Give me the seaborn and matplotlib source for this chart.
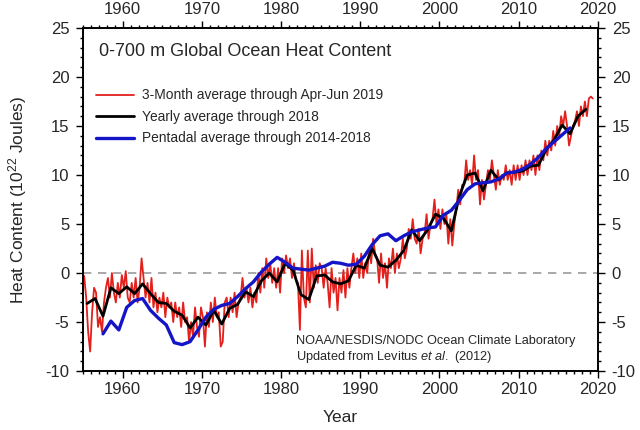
import numpy as np
import pandas as pd
import matplotlib
matplotlib.use("Agg")
import matplotlib.pyplot as plt
from matplotlib.ticker import MultipleLocator
import seaborn as sns

# ---------------- data ----------------
# 3-month averages, Jan-Mar 1955 ... Apr-Jun 2019 (10^22 J)
red_vals = [
    -0.3, -2.5, -6.0, -8.0,   # 1955
    -4.0, -1.5, -2.0, -5.5,   # 1956
    -4.5, -6.0, -3.0, -1.5,   # 1957
    -0.5, -2.5, 0.0, -2.0,    # 1958
    -3.0, -1.0, -2.5, -0.2,   # 1959
    -1.5, 0.2, -2.5, -3.0,    # 1960
    -1.0, -2.5, -0.5, -3.0,   # 1961
    -1.5, 1.5, -0.5, -2.5,    # 1962
    -1.0, -3.0, -0.5, -3.5,   # 1963
    -2.0, -4.0, -2.5, -3.5,   # 1964
    -2.0, -4.5, -2.5, -3.5,   # 1965
    -3.0, -5.0, -3.0, -4.5,   # 1966
    -3.5, -5.5, -3.0, -5.0,   # 1967
    -4.5, -7.0, -5.0, -6.5,   # 1968
    -3.5, -5.5, -6.5, -3.5,   # 1969
    -4.5, -7.5, -4.0, -5.5,   # 1970
    -3.0, -5.0, -2.5, -4.5,   # 1971
    -4.0, -7.5, -7.0, -3.0,   # 1972
    -2.5, -4.5, -2.5, -4.0,   # 1973
    -2.0, -4.5, -3.0, -2.5,   # 1974
    -0.5, -2.5, -1.5, -3.0,   # 1975
    -1.5, -3.5, -2.0, -3.0,   # 1976
    0.0, -2.0, 0.5, -1.5,     # 1977
    1.5, -0.5, 1.0, -1.0,     # 1978
    0.5, -1.5, 0.5, -2.0,     # 1979
    1.5, 0.0, 1.8, 0.5,       # 1980
    1.5, -0.5, 1.0, -0.8,     # 1981
    -1.0, -5.8, 2.3, -2.5,    # 1982
    -3.5, 2.3, -3.0, 2.5,     # 1983
    -1.5, 0.8, -1.0, 1.0,     # 1984
    0.5, -1.5, 0.5, -1.0,     # 1985
    -3.5, 0.5, -2.0, -0.5,    # 1986
    -3.8, -0.5, -2.0, 0.3,    # 1987
    -2.5, 0.5, -1.5, 0.5,     # 1988
    2.0, 0.0, 1.5, -0.5,      # 1989
    2.0, -0.5, 1.0, 0.0,      # 1990
    2.5, 1.0, 3.5, 2.0,       # 1991
    1.5, -1.0, 2.0, -0.5,     # 1992
    1.0, -1.5, 1.5, 0.5,      # 1993
    2.5, 0.0, 2.0, 0.5,       # 1994
    1.5, 3.5, 1.5, 2.5,       # 1995
    4.5, 3.5, 5.5, 3.5,       # 1996
    3.0, 4.5, 2.0, 3.5,       # 1997
    4.0, 6.0, 3.5, 5.0,       # 1998
    5.5, 7.5, 5.0, 6.5,       # 1999
    4.5, 6.5, 5.0, 6.0,       # 2000
    3.0, 5.5, 2.8, 5.0,       # 2001
    6.5, 8.5, 7.0, 9.0,       # 2002
    9.0, 11.5, 9.5, 10.5,     # 2003
    9.0, 12.0, 9.5, 10.5,     # 2004
    7.0, 9.5, 7.5, 9.0,       # 2005
    10.5, 9.5, 11.5, 10.0,    # 2006
    8.5, 10.5, 9.0, 10.0,     # 2007
    9.5, 11.0, 9.5, 10.5,     # 2008
    9.0, 11.0, 9.5, 11.0,     # 2009
    9.5, 11.0, 10.0, 11.5,    # 2010
    10.0, 11.5, 10.5, 12.0,   # 2011
    10.0, 12.0, 10.5, 12.5,   # 2012
    11.5, 13.5, 12.0, 13.5,   # 2013
    12.5, 14.5, 13.0, 15.0,   # 2014
    14.0, 16.0, 15.0, 16.5,   # 2015
    15.0, 13.0, 14.0, 15.0,   # 2016
    15.5, 16.5, 15.0, 17.0,   # 2017
    16.0, 17.5, 16.0, 17.8,   # 2018
    18.0, 17.8,               # 2019
]
red_start = 1955.125
red_step = 0.25

# yearly averages 1955 ... 2018
black_years = list(range(1955, 2019))
black_vals = [
    -3.1, -2.6, -4.4, -1.5, -2.1, -1.4, -2.1, -1.1, -2.1, -3.0,
    -3.1, -3.9, -4.3, -5.6, -4.5, -5.3, -3.8, -5.2, -3.6, -3.2,
    -1.9, -2.4, -0.8, 0.0, -0.9, 1.0, 0.3, -2.2, -2.7, -0.3,
    -0.2, -0.9, -1.1, -0.8, 0.8, 0.5, 2.5, 0.8, 0.6, 1.3,
    2.3, 4.4, 3.3, 4.4, 6.0, 5.6, 4.3, 7.8, 10.0, 10.2,
    8.4, 10.5, 9.5, 10.2, 10.3, 10.4, 10.9, 11.0, 12.6, 13.6,
    15.1, 14.2, 16.0, 16.7,
]

# pentadal (running 5-year) averages, 1955-1959 ... 2014-2018
blue_start_years = list(range(1955, 2015))
blue_vals = [
    -6.2, -4.9, -5.8, -3.5, -2.8, -2.6, -3.8, -4.6, -5.3, -7.1,
    -7.3, -7.0, -5.8, -4.5, -3.7, -3.3, -3.1, -2.4, -1.6, -0.9,
    0.1, 0.9, 1.6, 1.1, 0.5, 0.4, 0.3, 0.5, 0.7, 1.1,
    1.0, 0.8, 0.9, 1.7, 2.9, 3.8, 4.0, 3.3, 3.8, 4.2,
    4.4, 4.6, 4.7, 5.9, 6.4, 7.4, 8.5, 9.1, 9.2, 9.3,
    9.6, 10.2, 10.3, 10.6, 11.1, 11.8, 12.7, 13.4, 14.1, 14.8,
]

labels = ["3-Month average through Apr-Jun 2019",
          "Yearly average through 2018",
          "Pentadal average through 2014-2018"]
title = "0-700 m Global Ocean Heat Content"
credit1 = "NOAA/NESDIS/NODC Ocean Climate Laboratory"
credit2 = r"Updated from Levitus $\it{et\ al.}$ (2012)"
x_ticks = [1960, 1970, 1980, 1990, 2000, 2010, 2020]
y_ticks = [-10, -5, 0, 5, 10, 15, 20, 25]

# ---------------- frames ----------------
red_df = pd.DataFrame({"year": red_start + red_step * np.arange(len(red_vals)),
                       "value": red_vals})
black_df = pd.DataFrame({"year": np.array(black_years) + 0.5, "value": black_vals})
blue_df = pd.DataFrame({"year": np.array(blue_start_years) + 2.5, "value": blue_vals})

# ---------------- plot ----------------
sns.set_style("ticks")
plt.rcParams["font.family"] = ["Liberation Sans", "DejaVu Sans"]
plt.rcParams["axes.unicode_minus"] = False
plt.rcParams["mathtext.fontset"] = "custom"
plt.rcParams["mathtext.rm"] = "Liberation Sans"
plt.rcParams["mathtext.it"] = "Liberation Sans:italic"

fig = plt.figure(figsize=(6.4, 4.3), dpi=100)
ax = fig.add_axes([0.13, 0.137, 0.804, 0.798])

ax.axhline(0, color="#999999", lw=1.2, ls=(0, (5, 4)), zorder=1)
sns.lineplot(data=red_df, x="year", y="value", ax=ax, color="#e3201b",
             lw=1.3, label=labels[0], zorder=2)
sns.lineplot(data=black_df, x="year", y="value", ax=ax, color="black",
             lw=2.0, label=labels[1], zorder=3)
sns.lineplot(data=blue_df, x="year", y="value", ax=ax, color="#1515c8",
             lw=2.4, label=labels[2], zorder=4)

ax.set_xlim(1955, 2020)
ax.set_ylim(-10, 25)
ax.set_xticks(x_ticks)
ax.set_yticks(y_ticks)
ax.xaxis.set_minor_locator(MultipleLocator(1))
ax.yaxis.set_minor_locator(MultipleLocator(1))
ax.tick_params(which="both", direction="out", top=True, right=True,
               labeltop=True, labelright=True, labelsize=12, width=1.0,
               color="black")
ax.tick_params(which="major", length=5, pad=3)
ax.tick_params(which="minor", length=2.5)
ax.tick_params(axis="y", which="major", pad=5)
for s in ax.spines.values():
    s.set_linewidth(1.4)
    s.set_color("black")

ax.set_xlabel("Year", fontsize=12.5, labelpad=9)
ax.set_ylabel(r"Heat Content (10$^{22}$ Joules)", fontsize=12.5, labelpad=12)

ax.text(0.03, 0.955, title, transform=ax.transAxes, fontsize=13,
        ha="left", va="top")
ax.text(1981.9, -6.9, credit1, fontsize=9.2, ha="left", va="center")
ax.text(1981.9, -8.6, credit2, fontsize=9.2, ha="left", va="center")

leg = ax.legend(loc="upper left", bbox_to_anchor=(0.015, 0.84), frameon=False,
                fontsize=9.9, handlelength=2.7, handletextpad=0.6,
                labelspacing=0.55, borderaxespad=0)

fig.savefig("out.png", dpi=100)
